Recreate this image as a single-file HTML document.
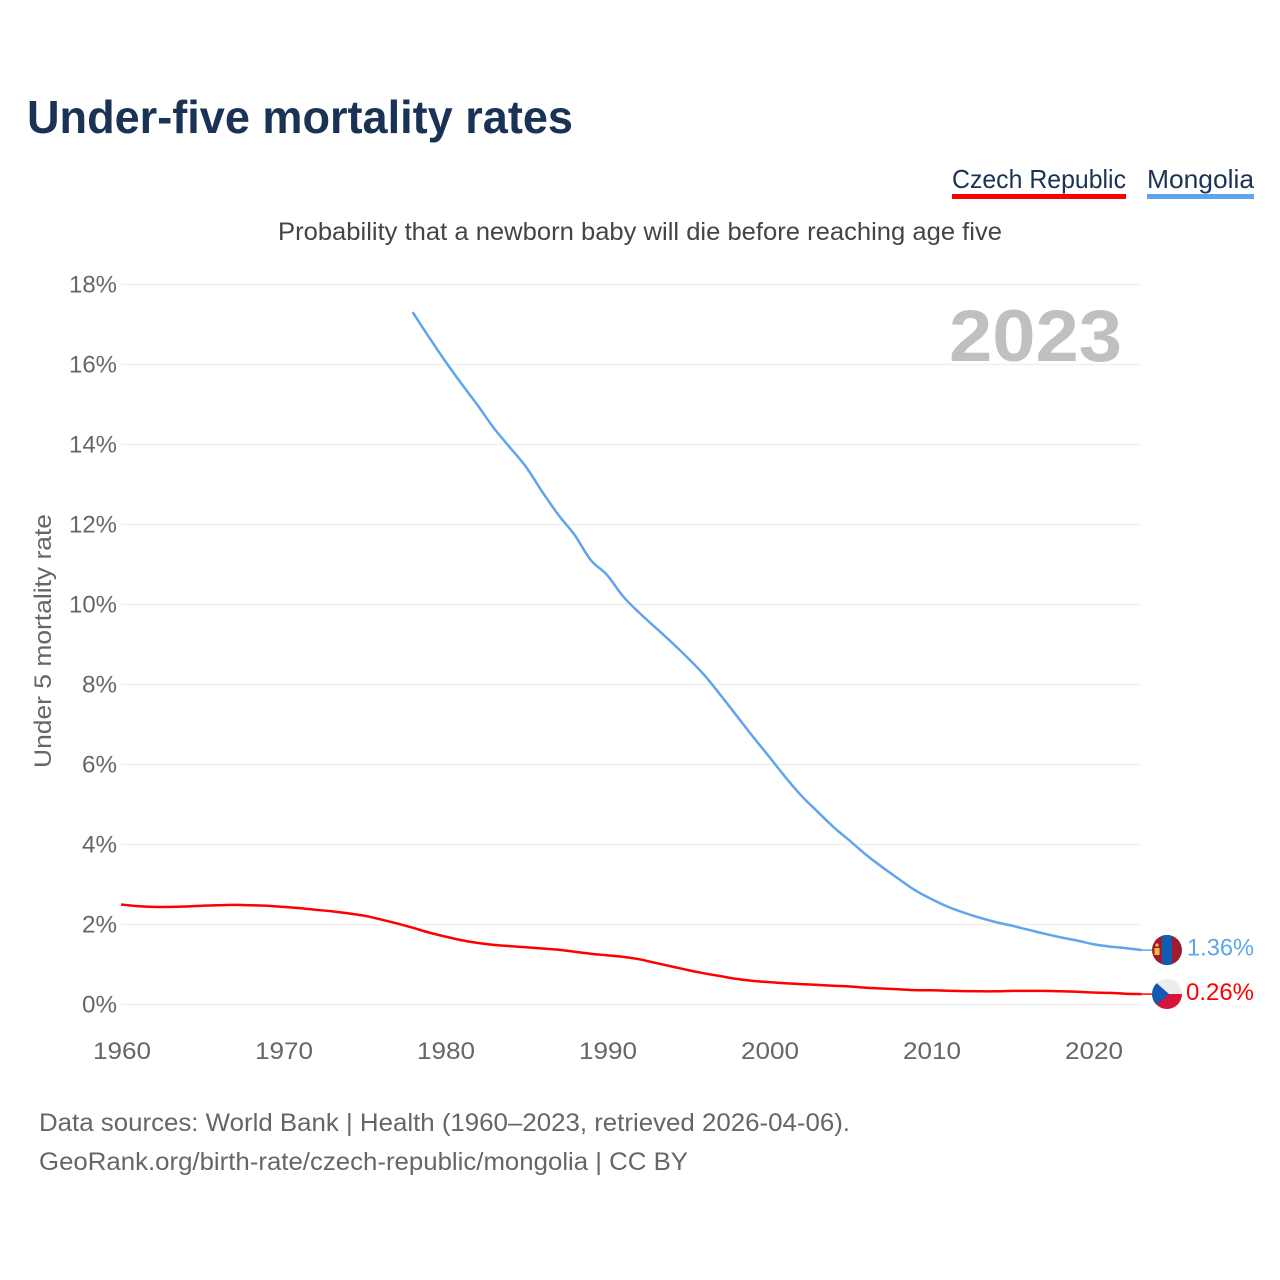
<!DOCTYPE html>
<html lang="en">
<head>
<meta charset="utf-8">
<title>Under-five mortality rates</title>
<style>
html,body{margin:0;padding:0;background:#fff;width:1280px;height:1280px;overflow:hidden}
svg{display:block}
text{font-family:"Liberation Sans",sans-serif}
</style>
</head>
<body>
<svg id="chart" xmlns="http://www.w3.org/2000/svg" width="1280" height="1280" viewBox="0 0 1280 1280">
  <defs>
    <clipPath id="clip-mn"><circle id="clip-mn-c" cx="1167" cy="950" r="15"/></clipPath>
    <clipPath id="clip-cz"><circle id="clip-cz-c" cx="1167" cy="994" r="15"/></clipPath>
  </defs>
  <rect width="1280" height="1280" fill="#fff"/>
  <text x="27" y="133" font-size="46" font-weight="700" fill="#1a3354" textLength="546" lengthAdjust="spacingAndGlyphs">Under-five mortality rates</text>
  <g>
    <g>
      <text x="952" y="188" font-size="26" fill="#1a3354" textLength="174" lengthAdjust="spacingAndGlyphs">Czech Republic</text>
      <rect x="952" y="194" width="174" height="5" fill="#ff0000"/>
    </g>
    <g>
      <text x="1147" y="188" font-size="26" fill="#1a3354" textLength="107" lengthAdjust="spacingAndGlyphs">Mongolia</text>
      <rect x="1147" y="194" width="107" height="5" fill="#60a5ec"/>
    </g>
  </g>
  <text x="278" y="240" font-size="25" fill="#444" textLength="724" lengthAdjust="spacingAndGlyphs">Probability that a newborn baby will die before reaching age five</text>
  <text transform="translate(51,768) rotate(-90)" font-size="24" fill="#666" textLength="254" lengthAdjust="spacingAndGlyphs">Under 5 mortality rate</text>
  <g id="grid"></g>
  <g id="y-ticks"></g>
  <g id="x-ticks"></g>
  <text x="949" y="361" font-size="73" font-weight="700" fill="#c0c0c0" textLength="173" lengthAdjust="spacingAndGlyphs">2023</text>
  <g id="series"></g>
  <g id="flag-mn" clip-path="url(#clip-mn)">
    <rect x="1152" y="935" width="30" height="30" fill="#9f1c2e"/>
    <rect x="1162" y="935" width="10" height="30" fill="#0f5cb0"/>
    <rect x="1154.5" y="948" width="5" height="7" fill="#f0c040"/>
    <circle cx="1157" cy="945" r="1.6" fill="#f0c040"/>
  </g>
  <g id="flag-cz" clip-path="url(#clip-cz)">
    <rect x="1152" y="979" width="30" height="15" fill="#ececec"/>
    <rect x="1152" y="994" width="30" height="15" fill="#d7143a"/>
    <polygon points="1152,979 1169,994 1152,1009" fill="#1259b0"/>
  </g>
  <g id="end-labels"></g>
  <text x="39" y="1131" font-size="25" fill="#666" textLength="811" lengthAdjust="spacingAndGlyphs">Data sources: World Bank | Health (1960–2023, retrieved 2026-04-06).</text>
  <text x="39" y="1170" font-size="25" fill="#666" textLength="649" lengthAdjust="spacingAndGlyphs">GeoRank.org/birth-rate/czech-republic/mongolia | CC BY</text>
</svg>
<script>
const yTickValues = [0, 2, 4, 6, 8, 10, 12, 14, 16, 18];
const xTickYears = [1960, 1970, 1980, 1990, 2000, 2010, 2020];
const czechStartYear = 1960;
const mongoliaStartYear = 1978;
const czechValues = [2.50, 2.46, 2.44, 2.44, 2.45, 2.47, 2.48, 2.49, 2.48, 2.47,
  2.44, 2.41, 2.37, 2.33, 2.28, 2.22, 2.13, 2.03, 1.92, 1.80,
  1.70, 1.61, 1.54, 1.49, 1.46, 1.43, 1.40, 1.37, 1.32, 1.27,
  1.23, 1.19, 1.13, 1.04, 0.95, 0.86, 0.78, 0.71, 0.64, 0.59,
  0.56, 0.53, 0.51, 0.49, 0.47, 0.45, 0.42, 0.40, 0.38, 0.36,
  0.355, 0.345, 0.335, 0.33, 0.33, 0.34, 0.34, 0.34, 0.33, 0.32,
  0.30, 0.29, 0.27, 0.26];
const mongoliaValues = [17.31, 16.69, 16.09, 15.53, 14.99, 14.42, 13.93, 13.44, 12.82, 12.24,
  11.74, 11.11, 10.74, 10.20, 9.79, 9.42, 9.05, 8.66, 8.24, 7.74,
  7.22, 6.70, 6.20, 5.69, 5.22, 4.82, 4.43, 4.09, 3.74, 3.43,
  3.14, 2.86, 2.64, 2.45, 2.30, 2.17, 2.06, 1.97, 1.87, 1.77,
  1.68, 1.60, 1.51, 1.45, 1.41, 1.36];

const NS = 'http://www.w3.org/2000/svg';
function xScale(year) { return 121 + (year - 1960) * 16.2; }
function yScale(pct) { return 1004.5 - pct * 40; }
function make(tag, attrs, parent) {
  const el = document.createElementNS(NS, tag);
  for (const k in attrs) el.setAttribute(k, attrs[k]);
  parent.appendChild(el);
  return el;
}

const grid = document.getElementById('grid');
const yTicks = document.getElementById('y-ticks');
yTickValues.forEach(function (v) {
  const line = make('line', { x1: 121, x2: 1141, y1: yScale(v), y2: yScale(v), stroke: '#f0f0f0', 'stroke-width': 1.6 }, grid);
  
  
  const label = make('text', { x: 117, y: yScale(v) + 8, 'text-anchor': 'end', 'font-size': 24, fill: '#666', textLength: String(v).length > 1 ? 48 : 35, lengthAdjust: 'spacingAndGlyphs' }, yTicks);
  
  
  label.textContent = v + '%';
});

const xTicks = document.getElementById('x-ticks');
xTickYears.forEach(function (yr) {
  const label = make('text', { x: xScale(yr) + 1, y: 1059, 'text-anchor': 'middle', 'font-size': 24, fill: '#666', textLength: 58, lengthAdjust: 'spacingAndGlyphs' }, xTicks);
  
  
  label.textContent = yr;
});

function linePath(values, startYear) {
  const pts = values.map(function (v, i) {
    return [xScale(startYear + i), yScale(v)];
  });
  let d = 'M' + pts[0][0].toFixed(2) + ' ' + pts[0][1].toFixed(2);
  for (let i = 0; i < pts.length - 1; i++) {
    const p0 = pts[Math.max(i - 1, 0)];
    const p1 = pts[i];
    const p2 = pts[i + 1];
    const p3 = pts[Math.min(i + 2, pts.length - 1)];
    const c1x = p1[0] + (p2[0] - p0[0]) / 6;
    const c1y = p1[1] + (p2[1] - p0[1]) / 6;
    const c2x = p2[0] - (p3[0] - p1[0]) / 6;
    const c2y = p2[1] - (p3[1] - p1[1]) / 6;
    d += 'C' + c1x.toFixed(2) + ' ' + c1y.toFixed(2) + ' ' + c2x.toFixed(2) + ' ' + c2y.toFixed(2) + ' ' + p2[0].toFixed(2) + ' ' + p2[1].toFixed(2);
  }
  return d;
}

const seriesGroup = document.getElementById('series');
const czechLine = make('path', { d: linePath(czechValues, czechStartYear), fill: 'none', stroke: '#ff0000', 'stroke-width': 2.5, 'stroke-linejoin': 'round' }, seriesGroup);


const mongoliaLine = make('path', { d: linePath(mongoliaValues, mongoliaStartYear), fill: 'none', stroke: '#60a5ec', 'stroke-width': 2.5, 'stroke-linejoin': 'round' }, seriesGroup);



const czechLast = czechValues[czechValues.length - 1];
const mongoliaLast = mongoliaValues[mongoliaValues.length - 1];
const endX = xScale(mongoliaStartYear + mongoliaValues.length - 1);

const czechLeader = make('line', { x1: endX, x2: 1152, y1: yScale(czechLast), y2: yScale(czechLast), stroke: '#ff0000', 'stroke-width': 1.5 }, seriesGroup);


const mongoliaLeader = make('line', { x1: endX, x2: 1152, y1: yScale(mongoliaLast), y2: yScale(mongoliaLast), stroke: '#60a5ec', 'stroke-width': 1.5 }, seriesGroup);



const endLabels = document.getElementById('end-labels');
const mongoliaEnd = make('text', { x: 1187, y: yScale(mongoliaLast) + 5.5, 'font-size': 24, fill: '#60a5ec', textLength: 67, lengthAdjust: 'spacingAndGlyphs' }, endLabels);


mongoliaEnd.textContent = mongoliaLast.toFixed(2) + '%';
const czechEnd = make('text', { x: 1186, y: yScale(czechLast) + 6, 'font-size': 24, fill: '#ff0000', textLength: 68, lengthAdjust: 'spacingAndGlyphs' }, endLabels);


czechEnd.textContent = czechLast.toFixed(2) + '%';
</script>
</body>
</html>
